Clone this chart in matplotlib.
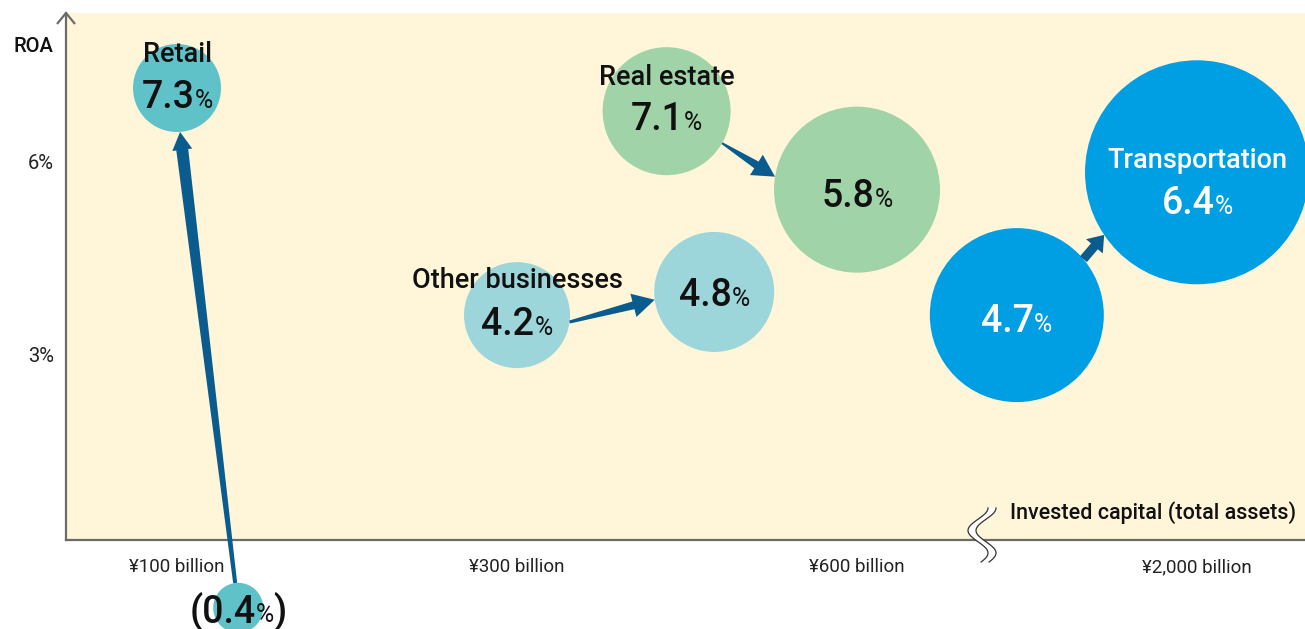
"""
ROA vs invested capital by segment (bubble chart with arrows).
"""

import numpy as np
import matplotlib
matplotlib.use("Agg")
import matplotlib.pyplot as plt
from matplotlib.patches import Polygon

plt.rcParams['font.family'] = ['Roboto', 'Liberation Sans', 'DejaVu Sans']

# --- data -----------------------------------------------------------------
segments = ['Retail', 'Real estate', 'Other businesses', 'Transportation']
capital_labels = ['¥100 billion', '¥300 billion', '¥600 billion', '¥2,000 billion']
roa_ticks = [3, 6]

# ROA shown for each segment: before -> after
roa_before = ['(0.4', '7.1', '4.2', '4.7']
roa_after = ['7.3', '5.8', '4.8', '6.4']

# bubble placement (capital axis position, ROA axis level)
before_x = [1.18, 2.44, 2.00, 3.47]
before_y = [-0.93, 6.79, 3.62, 3.62]
after_x = [1.00, 3.00, 2.58, 4.00]
after_y = [7.15, 5.57, 3.98, 5.84]

# bubble radius in pixels (relative size of invested capital)
before_r = [25, 64, 53, 87]
after_r = [44, 83, 60, 112]

# --- style ----------------------------------------------------------------
DPI = 100
colors = ['#5fc2c9', '#a0d3a8', '#9cd5da', '#009fe3']
text_colors = ['#111111', '#111111', '#111111', 'white']
arrow_color = '#0b5c8e'
bg_color = '#fff6d9'
axis_color = '#6b6b6b'

# which bubble carries the segment name and baseline offsets (px, down = +)
name_on_after = [True, False, False, True]
name_dy = [-26, -26, -27, -4]
before_dy = [14, 19, 20, 17]
after_dy = [20, 17, 14, 42]

# arrow geometry: angle (deg) where the arrow leaves / meets each circle
tail_angle = [97, -30, -7.5, 40]
tip_angle = [-86, 171, -172.5, 214]
# tail width, shaft width at head, head width, head length (px)
arrow_dims = [(4, 12, 20, 18), (2, 8, 24, 22), (3, 8, 24, 22), (9, 9, 22, 15)]

NUM_SIZE = 27
PCT_SIZE = 18
NAME_SIZE = 19.5
WEIGHT = 'medium'


def draw_parts(ax, x, y, parts, dy, color):
    """Draw a row of text pieces of mixed size, centred on (x, y)."""
    renderer = ax.figure.canvas.get_renderer()
    widths = []
    for s, size, weight in parts:
        t = ax.text(0, 0, s, fontsize=size, fontweight=weight)
        widths.append(t.get_window_extent(renderer).width)
        t.remove()
    xoff = -sum(widths) / 2
    for (s, size, weight), w in zip(parts, widths):
        ax.annotate(s, (x, y), xytext=(xoff, -dy), textcoords='offset pixels',
                    ha='left', va='baseline', fontsize=size, color=color,
                    fontweight=weight, annotation_clip=False, zorder=6)
        xoff += w


def tapered_arrow(ax, c0, r0, a0, c1, r1, a1, dims):
    """Arrow from the edge of circle 0 to the edge of circle 1 (display px)."""
    tw, sw, hw, hl = dims
    p0 = ax.transData.transform(c0) + r0 * np.array([np.cos(np.radians(a0)), np.sin(np.radians(a0))])
    p1 = ax.transData.transform(c1) + r1 * np.array([np.cos(np.radians(a1)), np.sin(np.radians(a1))])
    u = (p1 - p0) / np.linalg.norm(p1 - p0)
    n = np.array([-u[1], u[0]])
    b = p1 - u * hl
    pts = [p0 + n * tw / 2, b + n * sw / 2, b + n * hw / 2, p1,
           b - n * hw / 2, b - n * sw / 2, p0 - n * tw / 2]
    pts = ax.transData.inverted().transform(np.array(pts))
    ax.add_patch(Polygon(pts, closed=True, facecolor=arrow_color, edgecolor='none',
                         zorder=5, clip_on=False))


fig = plt.figure(figsize=(13.05, 6.29), dpi=DPI)
W, H = 1305, 629
ax = fig.add_axes([66 / W, (H - 540) / H, 1 - 66 / W, (540 - 13) / H])
ax.set_facecolor(bg_color)
ax.set_xlim(0.6735, 4.3176)
ax.set_ylim(0.124, 8.316)

for side in ['top', 'right']:
    ax.spines[side].set_visible(False)
for side in ['left', 'bottom']:
    ax.spines[side].set_color(axis_color)
    ax.spines[side].set_linewidth(1.6)

ax.set_yticks(roa_ticks)
ax.set_yticklabels([f'{v}%' for v in roa_ticks], fontsize=14.5, color='#222222')
ax.set_xticks(range(1, len(capital_labels) + 1))
ax.set_xticklabels(capital_labels, color='#222222', fontsize=13.5)
ax.tick_params(axis='y', length=0, pad=8.5)
ax.tick_params(axis='x', length=0, pad=13)

# bubbles
s_before = [(2 * r * 72 / DPI) ** 2 for r in before_r]
s_after = [(2 * r * 72 / DPI) ** 2 for r in after_r]
ax.scatter(before_x, before_y, s=s_before, c=colors, linewidths=0, zorder=3, clip_on=False)
ax.scatter(after_x, after_y, s=s_after, c=colors, linewidths=0, zorder=3, clip_on=False)

# arrows
for i in range(len(segments)):
    tapered_arrow(ax, (before_x[i], before_y[i]), before_r[i], tail_angle[i],
                  (after_x[i], after_y[i]), after_r[i], tip_angle[i], arrow_dims[i])

# labels
for i, name in enumerate(segments):
    nx, ny = (after_x[i], after_y[i]) if name_on_after[i] else (before_x[i], before_y[i])
    ax.annotate(name, (nx, ny), xytext=(0, -name_dy[i]), textcoords='offset pixels',
                ha='center', va='baseline', fontsize=NAME_SIZE, color=text_colors[i],
                fontweight=WEIGHT, annotation_clip=False, zorder=6)
    parts = [(roa_before[i], NUM_SIZE, WEIGHT), ('%', PCT_SIZE, 'normal')]
    if roa_before[i].startswith('('):
        parts.append((')', NUM_SIZE, WEIGHT))
    draw_parts(ax, before_x[i], before_y[i], parts, before_dy[i], text_colors[i])
    draw_parts(ax, after_x[i], after_y[i],
               [(roa_after[i], NUM_SIZE, WEIGHT), ('%', PCT_SIZE, 'normal')],
               after_dy[i], text_colors[i])

# axis titles
ax.text(-33 / 1239, (540 - 52) / 527, 'ROA', transform=ax.transAxes, ha='center',
        va='baseline', fontsize=14.5, fontweight=WEIGHT, color='#111111')
ax.text(1230 / 1239, (540 - 519) / 527, 'Invested capital (total assets)',
        transform=ax.transAxes, ha='right', va='baseline', fontsize=15.5,
        fontweight=WEIGHT, color='#111111')

# arrow head on the y axis
ax.plot([-9 / 1239, 0, 9 / 1239], [1 - 11 / 527, 1, 1 - 11 / 527], color=axis_color,
        lw=1.6, transform=ax.transAxes, clip_on=False, solid_capstyle='butt', zorder=4)

# axis break mark (pixel offsets from the axes' bottom-left, y downwards)
s = np.linspace(0, 1, 60)
bx = 912 - 10 * np.sin(2 * np.pi * 1.2 * s - np.pi / 2)
by = -32 + 54 * s
gap = 8
pts = np.vstack([np.column_stack([bx, by]), np.column_stack([bx + gap, by])[::-1]])
pts_ax = np.column_stack([pts[:, 0] / 1239, -pts[:, 1] / 527])
ax.add_patch(Polygon(pts_ax, closed=True, facecolor='white', edgecolor='none',
                     transform=ax.transAxes, clip_on=False, zorder=4))
for off in (0, gap):
    ax.plot((bx + off) / 1239, -by / 527, color='#333333', lw=0.9,
            transform=ax.transAxes, clip_on=False, zorder=4)

fig.savefig('out.png', dpi=DPI)
